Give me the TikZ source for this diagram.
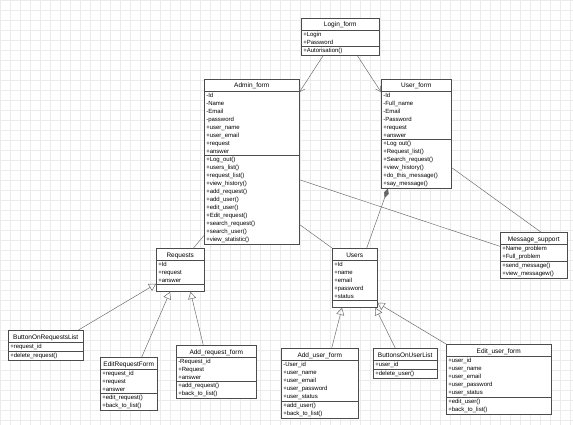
\documentclass[tikz,border=0pt]{standalone}
\usepackage{fontspec}
\setmainfont{Liberation Sans}
\usetikzlibrary{arrows.meta,shapes.multipart,calc}

\newcommand{\ctitle}[1]{\makebox[\hsize][c]{\fontsize{6.5}{8}\selectfont\rule[-1.5pt]{0pt}{8.5pt}#1}}

\begin{document}
\begin{tikzpicture}[x=1pt, y=-1pt, thin]
\tikzstyle{class}=[rectangle split, rectangle split parts=3, draw=black!70, fill=white, anchor=north west, inner xsep=2pt, inner ysep=1.5pt, align=left, font=\fontsize{6}{8}\selectfont, line width=0.5pt]
\tikzstyle{link}=[draw=black!60, line width=0.45pt]
\tikzstyle{assoc}=[link, -{Straight Barb[length=5pt,width=6pt]}]
\tikzstyle{inherit}=[link, -{Triangle[open,length=7pt,width=8pt]}]
\tikzstyle{compose}=[link, {Diamond[length=10pt,width=5pt]}-]

\useasboundingbox (0,0) rectangle (573,425);
\fill[white] (0,0) rectangle (573,425);
\foreach \gx in {0,10,...,570} \draw[black!8, very thin] (\gx,0) -- (\gx,425);
\foreach \gy in {0,10,...,420} \draw[black!8, very thin] (0,\gy) -- (573,\gy);

% classes
\node[class, text width=74pt]  (login)    at (301,18)  {\ctitle{Login\_form} \nodepart{two} +Login\\+Password \nodepart{three} +Autorisation()};
\node[class, text width=91pt]  (admin)    at (204,79)  {\ctitle{Admin\_form} \nodepart{two} -Id\\-Name\\-Email\\-password\\+user\_name\\+user\_email\\+request\\+answer \nodepart{three} +Log\_out()\\+users\_list()\\+request\_list()\\+view\_history()\\+add\_request()\\+add\_user()\\+edit\_user()\\+Edit\_request()\\+search\_request()\\+search\_user()\\+view\_statistic()};
\node[class, text width=66pt]  (user)     at (381,79)  {\ctitle{User\_form} \nodepart{two} -Id\\-Full\_name\\-Email\\-Password\\+request\\+answer \nodepart{three} +Log out()\\+Request\_list()\\+Search\_request()\\+view\_history()\\+do\_this\_message()\\+say\_message()};
\node[class, text width=44pt]  (req)      at (156,248) {\ctitle{Requests} \nodepart{two} +Id\\+request\\+answer \nodepart{three} \rule{0pt}{4pt}};
\node[class, text width=41pt]  (users)    at (332,248) {\ctitle{Users} \nodepart{two} +Id\\+name\\+email\\+password\\+status \nodepart{three} \rule{0pt}{4pt}};
\node[class, text width=63pt]  (msg)      at (500,232) {\ctitle{Message\_support} \nodepart{two} +Name\_problem\\+Full\_problem \nodepart{three} +send\_message()\\+view\_messagew()};
\node[class, text width=71pt]  (btnreq)   at (8,330)   {\ctitle{ButtonOnRequestsList} \nodepart{two} +request\_id \nodepart{three} +delete\_request()};
\node[class, text width=53pt]  (editreq)  at (100,357) {\ctitle{EditRequestForm} \nodepart{two} +request\_id\\+request\\+answer \nodepart{three} +edit\_request()\\+back\_to\_list()};
\node[class, text width=76pt]  (addreq)   at (176,345) {\ctitle{Add\_request\_form} \nodepart{two} -Request\_id\\+Request\\+answer \nodepart{three} +add\_request()\\+back\_to\_list()};
\node[class, text width=73pt]  (adduser)  at (281,348) {\ctitle{Add\_user\_form} \nodepart{two} -User\_id\\+user\_name\\+user\_email\\+user\_password\\+user\_status \nodepart{three} +add\_user()\\+back\_to\_list()};
\node[class, text width=60pt]  (btnusr)   at (373,348) {\ctitle{ButtonsOnUserList} \nodepart{two} +user\_id \nodepart{three} +delete\_user()};
\node[class, text width=101pt] (edituser) at (446,344) {\ctitle{Edit\_user\_form} \nodepart{two} +user\_id\\+user\_name\\+user\_email\\+user\_password\\+user\_status \nodepart{three} +edit\_user()\\+back\_to\_list()};

% links
\draw[assoc] ($(login.south)+(-17,0)$) -- ($(admin.north east)+(0,13)$);
\draw[assoc] ($(login.south)+(17,0)$) -- ($(user.north west)+(0,13)$);
\draw[compose] ($(user.south west)+(7,0)$) -- ($(users.north)+(12,0)$);
\draw[link] ($(user.south east)+(0,-21)$) -- ($(msg.north)+(7,0)$);
\draw[link] ($(admin.east)+(0,18)$) -- ($(msg.west)+(0,-9)$);
\draw[link] ($(admin.south east)+(0,-20)$) -- (users.north west);
\draw[link] ($(admin.south west)+(0,-9)$) -- ($(req.north east)+(-11,0)$);
\draw[inherit] ($(btnreq.north east)+(-5,0)$) -- ($(req.south west)+(0,-8)$);
\draw[inherit] ($(editreq.north)+(13,0)$) -- ($(req.south west)+(14,0)$);
\draw[inherit] ($(addreq.north)+(-13,0)$) -- ($(req.south east)+(-14,0)$);
\draw[inherit] ($(adduser.north)+(12,0)$) -- ($(users.south west)+(10,0)$);
\draw[inherit] ($(btnusr.north)+(-10,0)$) -- ($(users.south east)+(-2,0)$);
\draw[inherit] (edituser.north west) -- ($(users.south east)+(0,-5)$);
\end{tikzpicture}
\end{document}
